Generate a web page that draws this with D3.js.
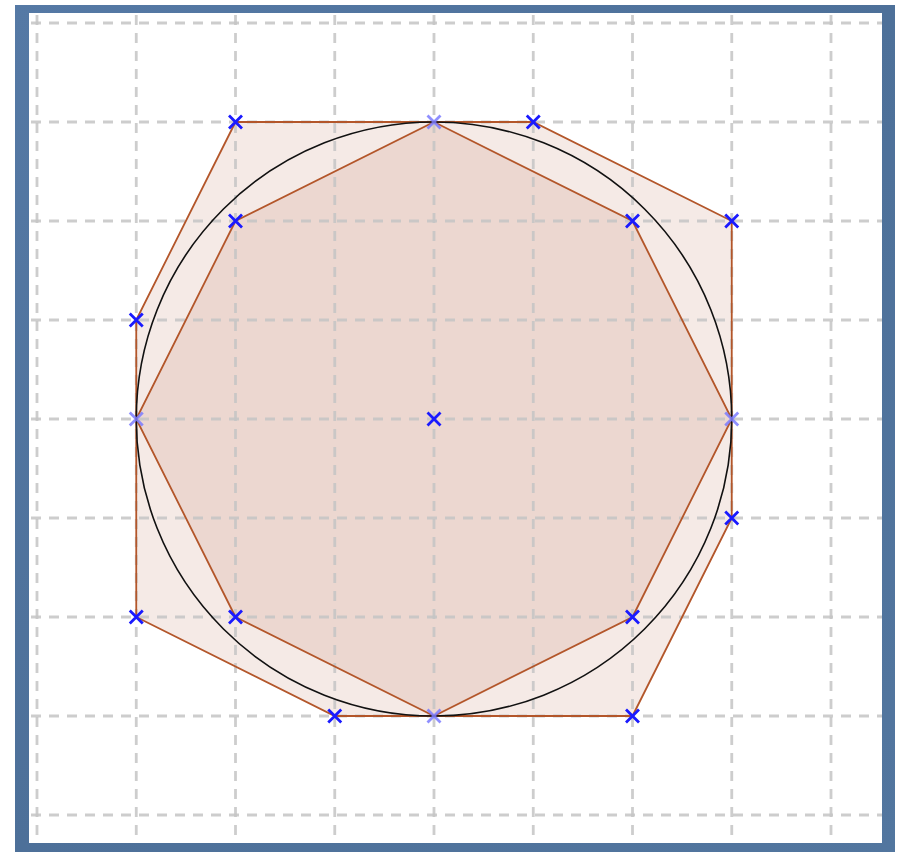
<!DOCTYPE html>
<html>
<head>
<meta charset="utf-8">
<script src="https://cdn.jsdelivr.net/npm/d3@7"></script>
<style>
  body { margin: 0; background: #fff; }
</style>
</head>
<body>
<div id="chart"></div>
<script>
// grid values (both axes)
var gridTicks = [-4, -3, -2, -1, 0, 1, 2, 3, 4];

// outer polygon vertices
var outerX = [-2, 1, 3, 3, 2, -1, -3, -3];
var outerY = [3, 3, 2, -1, -3, -3, -2, 1];

// inner octagon vertices
var innerX = [0, 2, 3, 2, 0, -2, -3, -2];
var innerY = [3, 2, 0, -2, -3, -2, 0, 2];

// circle
var circleCx = 0, circleCy = 0, circleR = 3;

// extra points (the centre)
var centerX = [0];
var centerY = [0];

var W = 899, H = 852;

var svg = d3.select("#chart").append("svg")
    .attr("width", W)
    .attr("height", H);

// frame
var defs = svg.append("defs");
var grad = defs.append("linearGradient").attr("id", "frameGrad")
    .attr("x1", 0).attr("y1", 0).attr("x2", 1).attr("y2", 1);
grad.append("stop").attr("offset", "0%").attr("stop-color", "#5579a5");
grad.append("stop").attr("offset", "50%").attr("stop-color", "#4d7099");
grad.append("stop").attr("offset", "100%").attr("stop-color", "#52769f");

svg.append("rect")
    .attr("x", 15).attr("y", 5)
    .attr("width", 880).attr("height", 847)
    .attr("fill", "url(#frameGrad)");

var inner = { x0: 29, y0: 13, x1: 882, y1: 843 };

svg.append("rect")
    .attr("x", inner.x0).attr("y", inner.y0)
    .attr("width", inner.x1 - inner.x0).attr("height", inner.y1 - inner.y0)
    .attr("fill", "#fff");

var x = d3.scaleLinear().domain([-4, 4]).range([37, 831]);
var y = d3.scaleLinear().domain([-4, 4]).range([815, 23]);

var g = svg.append("g");
g.append("clipPath").attr("id", "clip")
  .append("rect")
    .attr("x", inner.x0).attr("y", inner.y0)
    .attr("width", inner.x1 - inner.x0).attr("height", inner.y1 - inner.y0);

var plot = g.append("g").attr("clip-path", "url(#clip)");

function pts(xs, ys) {
    return xs.map(function(v, i) { return [x(v), y(ys[i])]; });
}

// polygon fills
[[outerX, outerY], [innerX, innerY]].forEach(function(p) {
    plot.append("polygon")
        .attr("points", pts(p[0], p[1]).join(" "))
        .attr("fill", "rgb(172,84,50)")
        .attr("fill-opacity", 0.12)
        .attr("stroke", "none");
});

// grid
var gridColor = "#c4c4c4";
plot.selectAll(".vgrid").data(gridTicks).enter().append("line")
    .attr("x1", function(d) { return x(d); })
    .attr("x2", function(d) { return x(d); })
    .attr("y1", inner.y0).attr("y2", inner.y1)
    .attr("stroke", gridColor)
    .attr("stroke-opacity", 0.85)
    .attr("stroke-width", 2.8)
    .attr("stroke-dasharray", "10,8")
    .attr("stroke-dashoffset", -2);

plot.selectAll(".hgrid").data(gridTicks).enter().append("line")
    .attr("y1", function(d) { return y(d); })
    .attr("y2", function(d) { return y(d); })
    .attr("x1", inner.x0).attr("x2", inner.x1)
    .attr("stroke", gridColor)
    .attr("stroke-opacity", 0.85)
    .attr("stroke-width", 2.8)
    .attr("stroke-dasharray", "10,8")
    .attr("stroke-dashoffset", -2);

// polygon outlines
[[outerX, outerY], [innerX, innerY]].forEach(function(p) {
    plot.append("polygon")
        .attr("points", pts(p[0], p[1]).join(" "))
        .attr("fill", "none")
        .attr("stroke", "#b3562a")
        .attr("stroke-width", 1.8);
});

// circle
plot.append("ellipse")
    .attr("cx", x(circleCx)).attr("cy", y(circleCy))
    .attr("rx", x(circleR) - x(0)).attr("ry", y(0) - y(circleR))
    .attr("fill", "none")
    .attr("stroke", "#111")
    .attr("stroke-width", 1.6);

// markers
function cross(xs, ys, color, op) {
    var s = 6.5;
    xs.forEach(function(v, i) {
        var cx = x(v), cy = y(ys[i]);
        plot.append("path")
            .attr("d", "M" + (cx - s) + "," + (cy - s) + "L" + (cx + s) + "," + (cy + s) +
                       "M" + (cx - s) + "," + (cy + s) + "L" + (cx + s) + "," + (cy - s))
            .attr("stroke", color)
            .attr("stroke-opacity", op)
            .attr("stroke-width", 2.8)
            .attr("fill", "none");
    });
}

cross(outerX, outerY, "#1a1aff", 1);
var onAxisX = [], onAxisY = [], diagX = [], diagY = [];
innerX.forEach(function(v, i) {
    if (v === 0 || innerY[i] === 0) { onAxisX.push(v); onAxisY.push(innerY[i]); }
    else { diagX.push(v); diagY.push(innerY[i]); }
});
cross(diagX, diagY, "#1a1aff", 1);
cross(onAxisX, onAxisY, "#7b7bff", 0.85);
cross(centerX, centerY, "#1a1aff", 1);
</script>
</body>
</html>
